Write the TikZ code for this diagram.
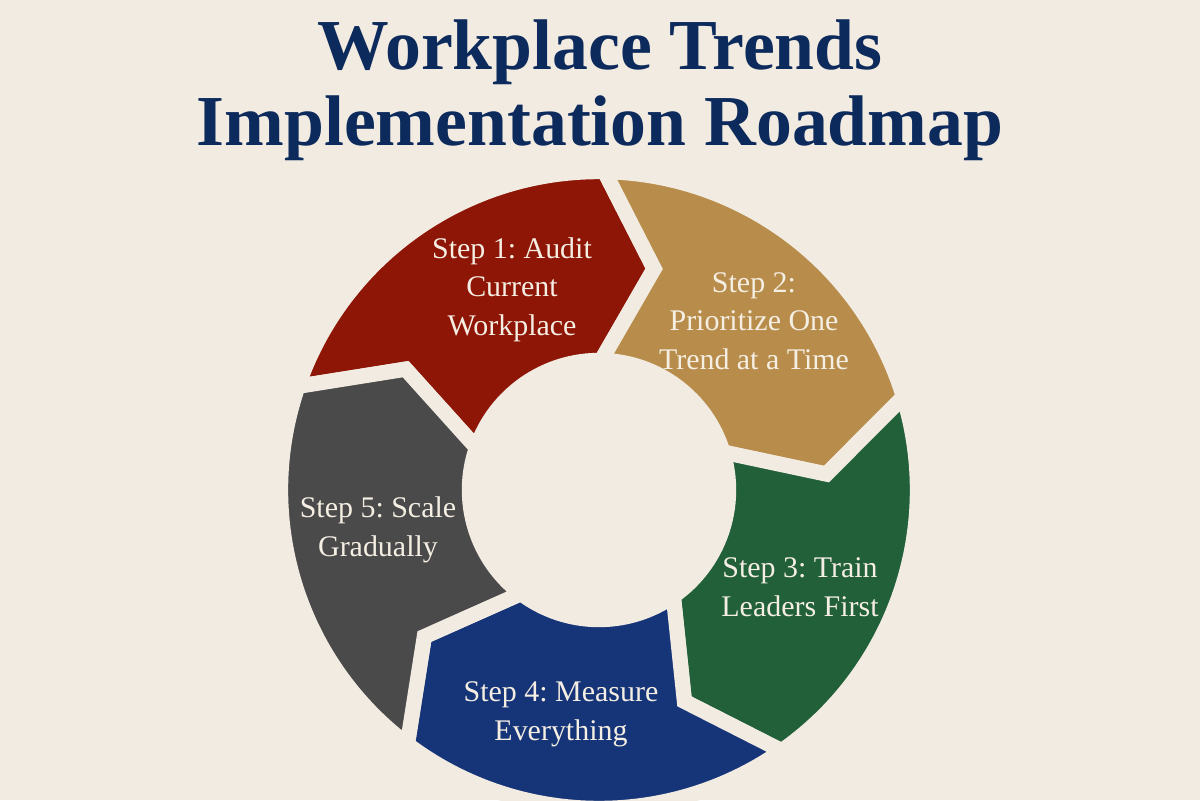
\documentclass[tikz,border=0pt]{standalone}
\usepackage{fontspec}
\setmainfont{Liberation Serif}
\usepackage{tikz}
\frenchspacing

\definecolor{paper}{HTML}{F2EBE2}
\definecolor{navy}{HTML}{0C2A5B}
\definecolor{stepred}{HTML}{8E1606}
\definecolor{steptan}{HTML}{B88D4C}
\definecolor{stepgreen}{HTML}{22603A}
\definecolor{stepblue}{HTML}{163578}
\definecolor{stepgray}{HTML}{4A4A4A}
\definecolor{labeltext}{HTML}{F5EEE3}

% ring radii (cm)
\newcommand{\Rout}{7.96}
\newcommand{\Rin}{3.24}
\newcommand{\Rmid}{5.7}

\begin{document}
\begin{tikzpicture}
[segment/.style={draw=paper,line width=0.38cm,line join=miter},%
  steplabel/.style={align=center,text=labeltext,inner sep=0pt,%
    font=\fontsize{21.3}{27.4}\selectfont},%
  heading/.style={anchor=base,text=navy,inner sep=0pt,%
    font=\fontsize{51}{53}\selectfont\bfseries}]
\useasboundingbox[fill=paper] (-14.975,-7.75) rectangle (15.025,12.25);

% title
\node[heading] (title1) at (0.025,10.5) {Workplace Trends};
\node[heading] (title2) at (0.025,8.6) {Implementation Roadmap};

% five arrow segments, clockwise
\filldraw[segment,fill=stepred] (161:\Rout) arc[start angle=161,end angle=89,radius=\Rout]
  -- (76:\Rmid) -- (89:\Rin) arc[start angle=89,end angle=161,radius=\Rin]
  -- (148:\Rmid) -- cycle;
\filldraw[segment,fill=steptan] (89:\Rout) arc[start angle=89,end angle=17,radius=\Rout]
  -- (4:\Rmid) -- (17:\Rin) arc[start angle=17,end angle=89,radius=\Rin]
  -- (76:\Rmid) -- cycle;
\filldraw[segment,fill=stepgreen] (17:\Rout) arc[start angle=17,end angle=-55,radius=\Rout]
  -- (-68:\Rmid) -- (-55:\Rin) arc[start angle=-55,end angle=17,radius=\Rin]
  -- (4:\Rmid) -- cycle;
\filldraw[segment,fill=stepblue] (-55:\Rout) arc[start angle=-55,end angle=-127,radius=\Rout]
  -- (-140:\Rmid) -- (-127:\Rin) arc[start angle=-127,end angle=-55,radius=\Rin]
  -- (-68:\Rmid) -- cycle;
\filldraw[segment,fill=stepgray] (-127:\Rout) arc[start angle=-127,end angle=-199,radius=\Rout]
  -- (-212:\Rmid) -- (-199:\Rin) arc[start angle=-199,end angle=-127,radius=\Rin]
  -- (-140:\Rmid) -- cycle;

% step labels
\node[steplabel] (audit) at (-2.175,5.01) {Step 1: Audit\\Current\\Workplace};
\node[steplabel] (prioritize) at (3.875,4.225) {Step 2:\\Prioritize One\\Trend at a Time};
\node[steplabel] (train) at (5.025,-2.425) {Step 3: Train\\Leaders First};
\node[steplabel] (measure) at (-0.95,-5.6125) {Step 4: Measure\\Everything};
\node[steplabel] (scale) at (-5.525,-1.0) {Step 5: Scale\\Gradually};
\end{tikzpicture}
\end{document}
